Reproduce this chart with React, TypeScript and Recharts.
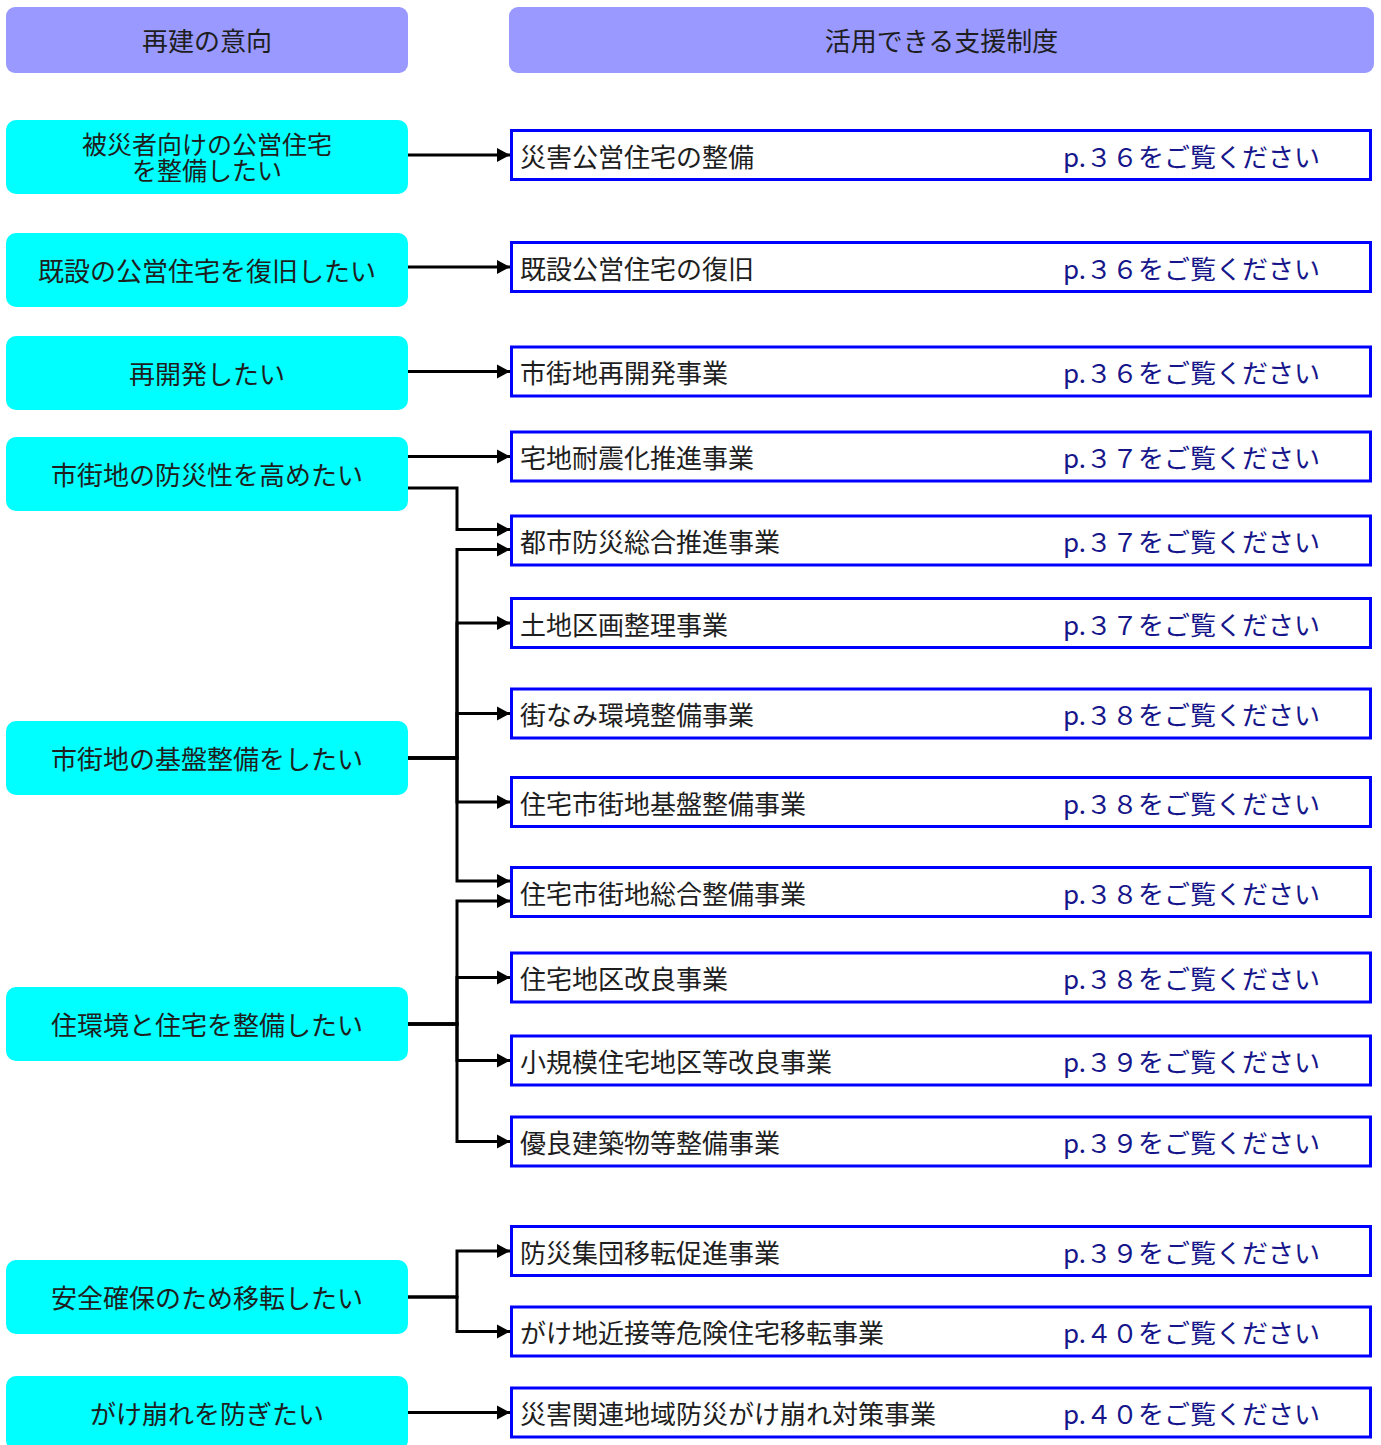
import { ComposedChart, Line, Scatter, XAxis, YAxis } from 'recharts';

const headerLabels = ['再建の意向', '活用できる支援制度'];

const intentLabels = [
  '被災者向けの公営住宅\nを整備したい',
  '既設の公営住宅を復旧したい',
  '再開発したい',
  '市街地の防災性を高めたい',
  '市街地の基盤整備をしたい',
  '住環境と住宅を整備したい',
  '安全確保のため移転したい',
  'がけ崩れを防ぎたい',
];
const intentRows = [157, 270, 373, 474, 758, 1024, 1297, 1413];

const programLabels = [
  '災害公営住宅の整備',
  '既設公営住宅の復旧',
  '市街地再開発事業',
  '宅地耐震化推進事業',
  '都市防災総合推進事業',
  '土地区画整理事業',
  '街なみ環境整備事業',
  '住宅市街地基盤整備事業',
  '住宅市街地総合整備事業',
  '住宅地区改良事業',
  '小規模住宅地区等改良事業',
  '優良建築物等整備事業',
  '防災集団移転促進事業',
  'がけ地近接等危険住宅移転事業',
  '災害関連地域防災がけ崩れ対策事業',
];
const programPages = ['３６', '３６', '３６', '３７', '３７', '３７', '３８', '３８', '３８', '３８', '３９', '３９', '３９', '４０', '４０'];
const programRows = [155, 267, 371.5, 456.5, 540.5, 623, 713.5, 802, 892, 977.5, 1060.5, 1141.5, 1251, 1331.5, 1412.5];

// [intent, program]
const links: [number, number][] = [
  [0, 0], [1, 1], [2, 2], [3, 3], [3, 4],
  [4, 4], [4, 5], [4, 6], [4, 7], [4, 8],
  [5, 8], [5, 9], [5, 10], [5, 11],
  [6, 12], [6, 13], [7, 14],
];

const W = 1381;
const H = 1445;
const FONT = '"Noto Sans CJK JP", "Noto Sans", sans-serif';
const FS = 26;
const INTENT_X = 207;
const INTENT_W = 402;
const INTENT_H = 74;
const PROGRAM_X = 941;
const PROGRAM_W = 862;
const PROGRAM_H = 52;
const TRUNK_X = 457;

const headerData = [
  { x: 207, y: 40, w: 402, label: headerLabels[0] },
  { x: 941.5, y: 40, w: 865, label: headerLabels[1] },
];
const intentData = intentLabels.map((label, i) => ({ x: INTENT_X, y: intentRows[i], label }));
const programData = programLabels.map((label, i) => ({
  x: PROGRAM_X,
  y: programRows[i],
  label,
  page: `p.${programPages[i]}をご覧ください`,
}));

// connector routes
const incoming = programRows.map(() => [] as number[]);
links.forEach(([i, p]) => incoming[p].push(i));
const linksOf = (i: number) => links.filter((l) => l[0] === i).map((l) => l[1]);
const isStraight = (i: number, p: number) => {
  const mine = linksOf(i);
  if (mine.length === 1) return true;
  return p === Math.min(...mine) && Math.abs(programRows[p] - intentRows[i]) < INTENT_H / 2;
};
const routes = links.map(([i, p]) => {
  const from = INTENT_X + INTENT_W / 2;
  const tip = PROGRAM_X - PROGRAM_W / 2;
  if (isStraight(i, p)) {
    return [{ x: from, y: programRows[p] }, { x: tip, y: programRows[p] }];
  }
  const inc = incoming[p];
  const yIn = inc.length > 1 ? programRows[p] + (inc.indexOf(i) === 0 ? -11 : 9) : programRows[p];
  const hasStraight = linksOf(i).some((q) => isStraight(i, q));
  const src = intentRows[i] + (hasStraight ? 14 : 0);
  return [
    { x: from, y: src },
    { x: TRUNK_X, y: src },
    { x: TRUNK_X, y: yIn },
    { x: tip, y: yIn },
  ];
});

const HeaderShape = (props: any) => {
  const { cx, cy, payload } = props;
  return (
    <g>
      <rect x={cx - payload.w / 2} y={cy - 33} width={payload.w} height={66} rx={9} fill="#9999ff" />
      <text x={cx} y={cy - 1} textAnchor="middle" dominantBaseline="central" fontSize={FS} fill="#1e1e1e" fontFamily={FONT}>
        {payload.label}
      </text>
    </g>
  );
};

const IntentShape = (props: any) => {
  const { cx, cy, payload } = props;
  const lines: string[] = payload.label.split('\n');
  const fs = lines.length > 1 ? 25 : FS;
  const gap = 26;
  const top = cy - 1 - ((lines.length - 1) / 2) * gap;
  return (
    <g>
      <rect x={cx - INTENT_W / 2} y={cy - INTENT_H / 2} width={INTENT_W} height={INTENT_H} rx={10} fill="#00ffff" />
      <text textAnchor="middle" dominantBaseline="central" fontSize={fs} fill="#1e1e1e" fontFamily={FONT}>
        {lines.map((t, k) => (
          <tspan key={k} x={cx} y={top + k * gap}>
            {t}
          </tspan>
        ))}
      </text>
    </g>
  );
};

const ProgramShape = (props: any) => {
  const { cx, cy, payload } = props;
  const left = cx - PROGRAM_W / 2;
  const right = cx + PROGRAM_W / 2;
  return (
    <g>
      <rect
        x={left + 1.5}
        y={cy - PROGRAM_H / 2 + 1.5}
        width={PROGRAM_W - 3}
        height={PROGRAM_H - 3}
        fill="#fff"
        stroke="#0000ff"
        strokeWidth={3}
      />
      <text x={left + 10} y={cy} dominantBaseline="central" fontSize={FS} fill="#1e1e1e" fontFamily={FONT}>
        {payload.label}
      </text>
      <text x={right - 52} y={cy} textAnchor="end" dominantBaseline="central" fontSize={FS} fill="#16168a" fontFamily={FONT}>
        {payload.page}
      </text>
    </g>
  );
};

const arrowDot = (last: number) => (props: any) => {
  const { cx, cy, index } = props;
  if (index !== last) return <g key={`d${index}`} />;
  return <path key={`d${index}`} d={`M${cx},${cy} L${cx - 13},${cy - 7} L${cx - 13},${cy + 7} Z`} fill="#000" />;
};

export default function App() {
  return (
    <div style={{ width: W, height: H }}>
      <style>{'body{margin:0}'}</style>
      <ComposedChart width={W} height={H} margin={{ top: 0, right: 0, bottom: 0, left: 0 }}>
        <XAxis type="number" dataKey="x" domain={[0, W]} allowDataOverflow hide />
        <YAxis type="number" dataKey="y" domain={[0, H]} allowDataOverflow reversed hide />
        {routes.map((pts, k) => (
          <Line
            key={k}
            data={pts}
            dataKey="y"
            type="linear"
            stroke="#000"
            strokeWidth={3}
            dot={arrowDot(pts.length - 1)}
            activeDot={false}
            isAnimationActive={false}
          />
        ))}
        <Scatter data={headerData} shape={HeaderShape} isAnimationActive={false} />
        <Scatter data={intentData} shape={IntentShape} isAnimationActive={false} />
        <Scatter data={programData} shape={ProgramShape} isAnimationActive={false} />
      </ComposedChart>
    </div>
  );
}
